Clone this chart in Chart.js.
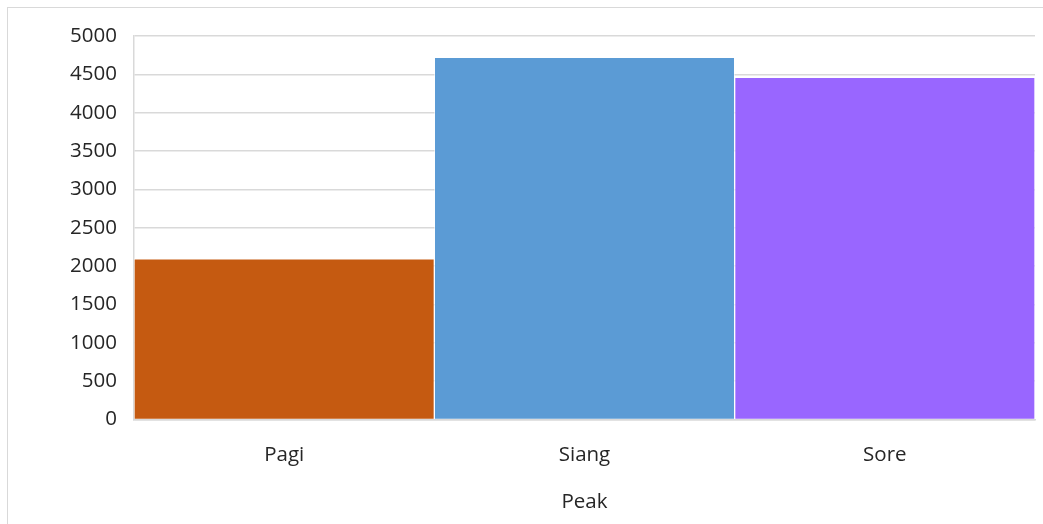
<!DOCTYPE html>
<html>
<head>
<meta charset="utf-8">
<script src="https://cdn.jsdelivr.net/npm/chart.js@4"></script>
<style>
  html, body { margin: 0; padding: 0; background: #fff; overflow: hidden; }
  #frame { position: absolute; left: 7px; top: 7px; width: 1200px; height: 700px; border: 1px solid #d9d9d9; }
  #wrap { position: absolute; left: 0; top: 0; width: 1043px; height: 524px; }
</style>
</head>
<body>
<div id="frame"></div>
<div id="wrap"><canvas id="c" width="1043" height="524"></canvas></div>
<script>
const categories = ["Pagi", "Siang", "Sore"];
const values = [2095, 4722, 4462];
const barColors = ["#C55A11", "#5B9BD5", "#9966FF"];
const yTicks = [0, 500, 1000, 1500, 2000, 2500, 3000, 3500, 4000, 4500, 5000];
const xTitle = "Peak";

const FONT = "'Open Sans', 'Liberation Sans', sans-serif";

new Chart(document.getElementById('c'), {
  type: 'bar',
  data: {
    labels: categories,
    datasets: [{
      data: values,
      backgroundColor: barColors,
      borderColor: 'rgba(255,255,255,0.55)',
      borderWidth: 1,
      categoryPercentage: 1.0,
      barPercentage: 1.0
    }]
  },
  options: {
    responsive: false,
    animation: false,
    devicePixelRatio: 1,
    layout: { padding: { left: 0, right: 8, top: 36, bottom: 0 } },
    plugins: { legend: { display: false }, tooltip: { enabled: false } },
    scales: {
      x: {
        grid: { display: false, drawTicks: false },
        border: { display: true, color: '#d9d9d9', width: 1.5 },
        ticks: { color: '#262626', font: { family: FONT, size: 20.5 }, padding: 23 },
        title: { display: true, text: xTitle, color: '#262626', font: { family: FONT, size: 20.5 }, padding: { top: 0, bottom: 10 } },
        afterFit: (s) => { s.height = 104.5; }
      },
      y: {
        min: 0, max: 5000,
        afterBuildTicks: (s) => { s.ticks = yTicks.map(v => ({ value: v })); },
        grid: { color: '#d9d9d9', lineWidth: 1.5, drawTicks: false },
        border: { display: true, color: '#d9d9d9', width: 1.5 },
        ticks: { color: '#262626', font: { family: FONT, size: 20.5 }, padding: 17, callback: (v) => String(v) },
        afterFit: (s) => { s.width = 134; }
      }
    }
  }
});
</script>
</body>
</html>
